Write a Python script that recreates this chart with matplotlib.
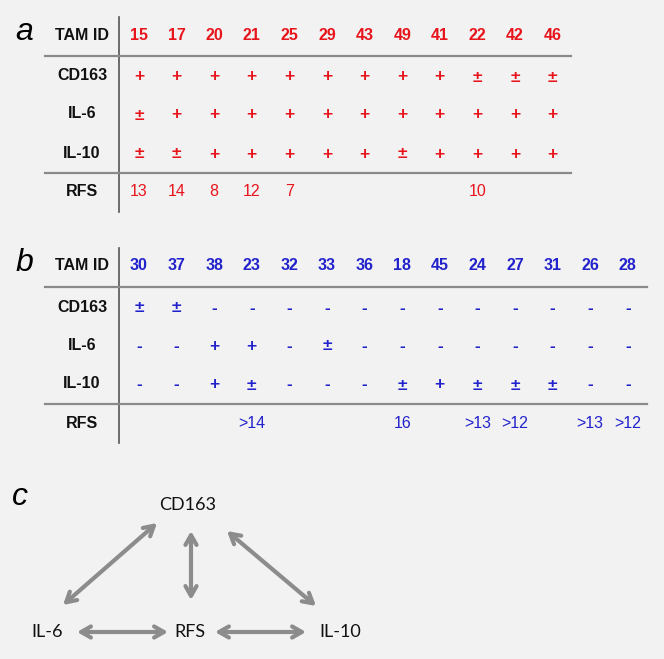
import matplotlib
matplotlib.use('Agg')
import matplotlib.pyplot as plt

# panel a
ids_a = ['15', '17', '20', '21', '25', '29', '43', '49', '41', '22', '42', '46']
cd163_a = ['+', '+', '+', '+', '+', '+', '+', '+', '+', '±', '±', '±']
il6_a = ['±', '+', '+', '+', '+', '+', '+', '+', '+', '+', '+', '+']
il10_a = ['±', '±', '+', '+', '+', '+', '+', '±', '+', '+', '+', '+']
rfs_a = ['13', '14', '8', '12', '7', '', '', '', '', '10', '', '']

# panel b
ids_b = ['30', '37', '38', '23', '32', '33', '36', '18', '45', '24', '27', '31', '26', '28']
cd163_b = ['±', '±', '-', '-', '-', '-', '-', '-', '-', '-', '-', '-', '-', '-']
il6_b = ['-', '-', '+', '+', '-', '±', '-', '-', '-', '-', '-', '-', '-', '-']
il10_b = ['-', '-', '+', '±', '-', '-', '-', '±', '+', '±', '±', '±', '-', '-']
rfs_b = ['', '', '', '>14', '', '', '', '16', '', '>13', '>12', '', '>13', '>12']

row_names = ['TAM ID', 'CD163', 'IL-6', 'IL-10', 'RFS']

# panel c
nodes = {'CD163': (188, 505), 'IL-6': (47, 632), 'RFS': (190, 632), 'IL-10': (340, 632)}
links = [((63, 605), (157, 523)), ((191, 531), (191, 600)), ((227, 531), (316, 606)),
         ((77, 632), (168, 632)), ((215, 632), (306, 632))]

RED = '#e8141c'
BLUE = '#2222cc'
bg = '#f2f2f2'

fig = plt.figure(figsize=(6.64, 6.59), dpi=100, facecolor=bg)
ax = fig.add_axes([0, 0, 1, 1])
ax.set_xlim(0, 664)
ax.set_ylim(659, 0)
ax.axis('off')
ax.set_facecolor(bg)

font = 'Liberation Sans'
x0 = 139
dx = 37.6


def draw_table(top, ids, rows, color, right, letter):
    ys = [top, top + 41, top + 79, top + 118, top + 157]
    ax.text(24, top - 3, letter, fontsize=23, style='italic', family=font,
            ha='center', va='center', color='black')
    for name, y in zip(row_names, ys):
        ax.text(82, y, name, fontsize=11.5, fontweight='bold', family=font,
                ha='center', va='center', color='#111111')
    for i, tid in enumerate(ids):
        ax.text(x0 + i * dx, ys[0], tid, fontsize=11.5, fontweight='bold',
                family=font, ha='center', va='center', color=color)
    for r, vals in enumerate(rows):
        last = r == len(rows) - 1
        for i, v in enumerate(vals):
            if v == '':
                continue
            if last:
                ax.text(x0 + i * dx, ys[r + 1], v, fontsize=11.5, family=font,
                        ha='center', va='center', color=color)
            else:
                ax.text(x0 + i * dx, ys[r + 1] + 1, v, fontsize=12.5, family=font,
                        fontweight='bold', ha='center', va='center', color=color)
    ax.plot([119, 119], [top - 18, top + 177], color='#555555', lw=1.2)
    ax.plot([45, right], [top + 21, top + 21], color='#8a8a8a', lw=1.6)
    ax.plot([45, right], [top + 138, top + 138], color='#8a8a8a', lw=1.6)


draw_table(35, ids_a, [cd163_a, il6_a, il10_a, rfs_a], RED, 571, 'a')
draw_table(266, ids_b, [cd163_b, il6_b, il10_b, rfs_b], BLUE, 647, 'b')

# panel c
ax.text(20, 497, 'c', fontsize=23, style='italic', family=font,
        ha='center', va='center', color='black')
for name, (x, y) in nodes.items():
    ax.text(x, y, name, fontsize=13, family='Lato', ha='center',
            va='center', color='#111111')
for (xa, ya), (xb, yb) in links:
    ax.annotate('', xy=(xb, yb), xytext=(xa, ya),
                arrowprops=dict(arrowstyle='<->,head_length=0.7,head_width=0.4',
                                color='#8c8c8c', lw=3, shrinkA=0, shrinkB=0))

fig.savefig('out.png', dpi=100, facecolor=bg)
